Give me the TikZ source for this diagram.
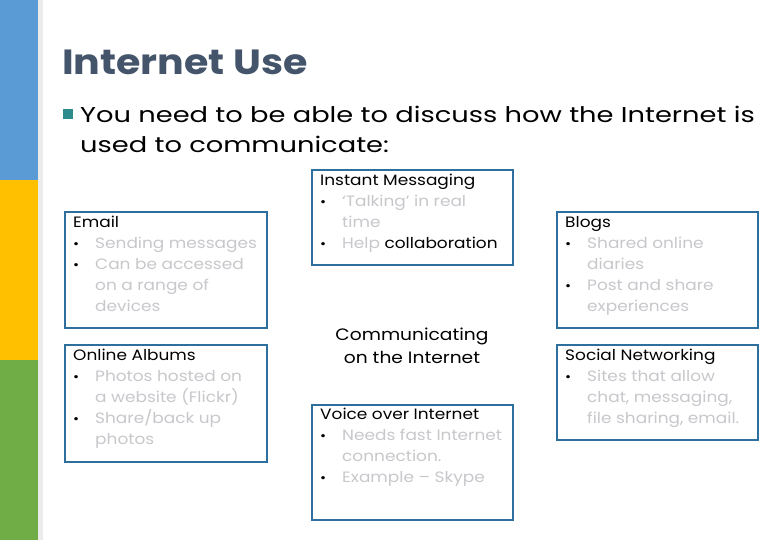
\documentclass[tikz,border=0pt]{standalone}
\usepackage{fontspec}
\setmainfont{Poppins}[FakeStretch=1.13]
\newfontfamily\widefont{Poppins}[FakeStretch=1.27]
\definecolor{bblue}{HTML}{5B9BD5}
\definecolor{byellow}{HTML}{FFC000}
\definecolor{bgreen}{HTML}{70AD47}
\definecolor{titlec}{HTML}{44546A}
\definecolor{boxc}{HTML}{2E6F9E}
\definecolor{faint}{HTML}{C8C8CC}
\definecolor{teal}{HTML}{2E8B8B}
\begin{document}
\begin{tikzpicture}[x=1pt,y=-1pt,
  card/.style={draw=boxc,line width=1.8pt},
  body/.style={anchor=north west,align=left,inner sep=0pt,font=\fontsize{15}{21}\selectfont},
]
\useasboundingbox (0,0) rectangle (780,540);
\fill[white] (0,0) rectangle (780,540);
\fill[bblue] (0,0) rectangle (38,180);
\fill[byellow] (0,180) rectangle (38,360);
\fill[bgreen] (0,360) rectangle (38,540);
\fill[black!8] (38,0) rectangle (43,540);
\node[anchor=base west,inner sep=0pt,text=titlec,font=\fontsize{35}{40}\selectfont\bfseries] (title) at (62,75) {Internet Use};
\fill[teal] (63,109) rectangle (73,119) coordinate (sq);
\node[anchor=base west,inner sep=0pt,font=\widefont\fontsize{21.5}{30}\selectfont] (l1) at (80,123) {You need to be able to discuss how the Internet is};
\node[anchor=base west,inner sep=0pt,font=\widefont\fontsize{21.5}{30}\selectfont] (l2) at (80,153) {used to communicate:};
% boxes
\draw[card] (65,212) rectangle (267,328) coordinate (bEmail);
\draw[card] (65,345) rectangle (267,462) coordinate (bAlb);
\draw[card] (312,170) rectangle (513,265) coordinate (bIM);
\draw[card] (312,405) rectangle (513,520) coordinate (bVoIP);
\draw[card] (557,212) rectangle (758,328) coordinate (bBlog);
\draw[card] (557,345) rectangle (758,440) coordinate (bSN);
\newcommand{\hd}[1]{{\fontsize{15}{21}\selectfont #1}}
\newcommand{\bl}{\makebox[22pt][l]{\fontsize{13}{10}\selectfont\textbullet}}
\newcommand{\ind}{\hspace*{22pt}}
\node[body] (tEmail) at (73,216) {\hd{Email}\\\bl\textcolor{faint}{Sending messages}\\\bl\textcolor{faint}{Can be accessed}\\\ind\textcolor{faint}{on a range of}\\\ind\textcolor{faint}{devices}};
\node[body] (tAlb) at (73,349) {\hd{Online Albums}\\\bl\textcolor{faint}{Photos hosted on}\\\ind\textcolor{faint}{a website (Flickr)}\\\bl\textcolor{faint}{Share/back up}\\\ind\textcolor{faint}{photos}};
\node[body] (tIM) at (320,174) {\hd{Instant Messaging}\\\bl\textcolor{faint}{‘Talking’ in real}\\\ind\textcolor{faint}{time}\\\bl\textcolor{faint}{Help} collaboration};
\node[body] (tVoIP) at (320,408) {\hd{Voice over Internet}\\\bl\textcolor{faint}{Needs fast Internet}\\\ind\textcolor{faint}{connection.}\\\bl\textcolor{faint}{Example – Skype}};
\node[body] (tBlog) at (565,216) {\hd{Blogs}\\\bl\textcolor{faint}{Shared online}\\\ind\textcolor{faint}{diaries}\\\bl\textcolor{faint}{Post and share}\\\ind\textcolor{faint}{experiences}};
\node[body] (tSN) at (565,349) {\hd{Social Networking}\\\bl\textcolor{faint}{Sites that allow}\\\ind\textcolor{faint}{chat, messaging,}\\\ind\textcolor{faint}{file sharing, email.}};
\node[align=center,inner sep=0pt,font=\fontsize{16.5}{23}\selectfont] (center) at (412,346) {Communicating\\on the Internet};
\end{tikzpicture}
\end{document}
